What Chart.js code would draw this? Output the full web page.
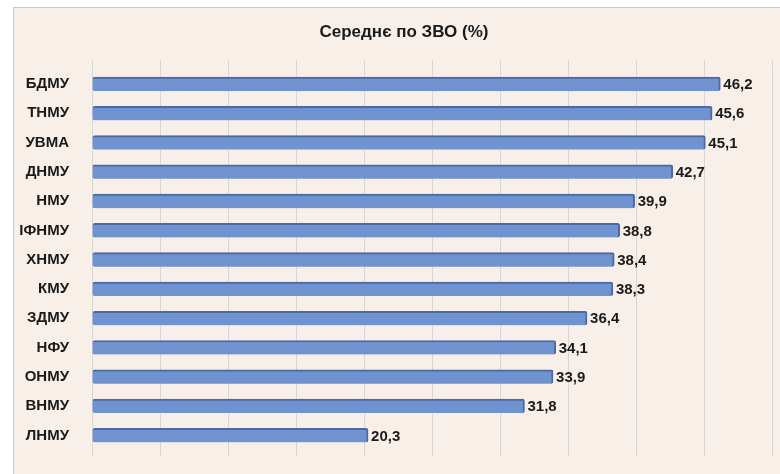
<!DOCTYPE html>
<html>
<head>
<meta charset="utf-8">
<script src="https://cdn.jsdelivr.net/npm/chart.js@4"></script>
<style>
  html, body { margin: 0; padding: 0; background: #fff; overflow: hidden; width: 780px; height: 474px; }
  #frame { position: absolute; left: 13px; top: 7px; width: 800px; height: 500px;
           border: 1px solid #b9cde6; background: #f8efe9; }
  #chart { position: absolute; left: 0; top: 0; }
</style>
</head>
<body>
<div id="frame"><canvas id="chart" width="780" height="466"></canvas></div>
<script>
// ---- data ----
const categories = ['БДМУ', 'ТНМУ', 'УВМА', 'ДНМУ', 'НМУ', 'ІФНМУ', 'ХНМУ', 'КМУ', 'ЗДМУ', 'НФУ', 'ОНМУ', 'ВНМУ', 'ЛНМУ'];
const values = [46.2, 45.6, 45.1, 42.7, 39.9, 38.8, 38.4, 38.3, 36.4, 34.1, 33.9, 31.8, 20.3];
const axisMin = 0;
const axisMax = 50;
const axisStep = 5;
const titleText = 'Середнє по ЗВО (%)';

const FONT = "'Liberation Sans', Arial, sans-serif";
const TEXT = '#1a1a1a';
const GRID = '#d6d6d6';

// value labels at bar ends, Excel style "46,2"
const valueLabels = {
  id: 'valueLabels',
  afterDatasetsDraw(chart) {
    const ctx = chart.ctx;
    const meta = chart.getDatasetMeta(0);
    ctx.save();
    ctx.font = 'bold 15px ' + FONT;
    ctx.fillStyle = TEXT;
    ctx.textAlign = 'left';
    ctx.textBaseline = 'middle';
    meta.data.forEach((bar, i) => {
      const txt = values[i].toFixed(1).replace('.', ',');
      ctx.fillText(txt, bar.x + 3, bar.y + 1);
    });
    ctx.restore();
  }
};

new Chart(document.getElementById('chart'), {
  type: 'bar',
  data: {
    labels: categories,
    datasets: [{
      data: values,
      backgroundColor: '#7093d0',
      borderColor: '#4a69a6',
      borderWidth: { top: 2, right: 2, bottom: 0, left: 0 },
      borderSkipped: false,
      borderRadius: 2,
      barThickness: 14
    }]
  },
  options: {
    responsive: false,
    animation: false,
    indexAxis: 'y',
    layout: { padding: { left: 0, right: 0, top: 0, bottom: 12 } },
    plugins: {
      legend: { display: false },
      tooltip: { enabled: false },
      title: {
        display: true,
        text: titleText,
        color: TEXT,
        font: { family: FONT, size: 17, weight: 'bold' },
        padding: { top: 14, bottom: 18 }
      }
    },
    scales: {
      x: {
        min: axisMin, max: axisMax,
        ticks: { display: false, stepSize: axisStep },
        grid: { color: GRID, tickColor: GRID, tickLength: 6 },
        border: { display: false }
      },
      x2: {
        position: 'top',
        min: axisMin, max: axisMax,
        ticks: { display: false, stepSize: axisStep },
        grid: { drawOnChartArea: false, tickColor: GRID, tickLength: 9 },
        border: { display: false }
      },
      y: {
        afterFit: s => { s.width = 78; },
        grid: { display: false },
        border: { display: false },
        ticks: { color: TEXT, padding: 15, font: { family: FONT, size: 15, weight: 'bold' } }
      },
      // empty spacer on the right, keeps the title centred on the full width
      y2: {
        type: 'category',
        position: 'right',
        afterFit: s => { s.width = 22; },
        grid: { display: false },
        border: { display: false },
        ticks: { display: false }
      }
    }
  },
  plugins: [valueLabels]
});
</script>
</body>
</html>
